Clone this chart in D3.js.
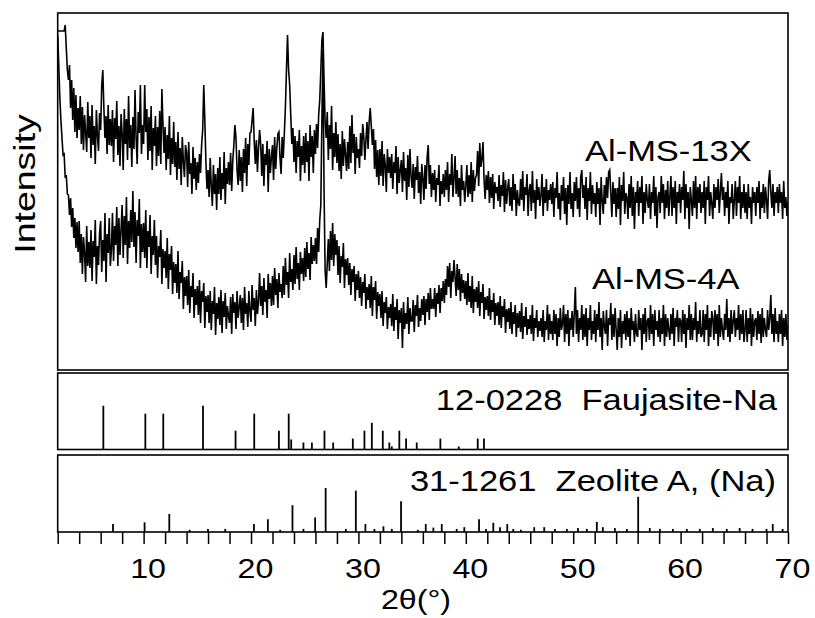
<!DOCTYPE html>
<html><head><meta charset="utf-8">
<script src="https://cdn.jsdelivr.net/npm/d3@7"></script>
<style>
body{margin:0;background:#fff}
text{font-family:"Liberation Sans",Arial,sans-serif;fill:#000}
</style>
</head><body>
<svg id="chart" width="815" height="618"></svg>
<script>
// ---- data ----
const twoThetaStart = 2.0, twoThetaStep = 0.1;
// Al-MS-13X intensity (a.u.), 2θ = 2.0 ... 70.0, step 0.1 (one row per degree)
const al13X = [
339,339,339,339,339,339,339,345,322,300,
290,305,262,290,250,282,238,275,232,262,
240,274,226,263,220,255,238,218,268,232,
254,212,265,225,244,206,260,235,219,257,
240,285,300,262,232,254,216,265,225,251,
224,260,208,252,231,269,215,244,204,256,
237,200,261,226,251,210,274,222,245,203,
253,221,280,232,206,258,237,285,216,245,
226,285,238,261,210,253,219,264,200,242,
224,254,204,243,214,259,206,281,246,217,
243,200,235,211,254,195,232,206,248,203,
228,190,238,201,222,185,233,209,193,225,
218,183,228,196,207,176,223,191,212,180,
208,187,216,197,225,240,285,250,208,181,
200,173,212,184,164,205,176,196,160,202,
176,213,170,197,181,218,166,202,186,208,
185,217,179,209,225,245,232,200,185,220,
189,213,178,221,197,232,184,226,205,237,
238,250,262,228,206,230,198,222,240,226,
194,226,184,216,205,229,178,221,197,213,
225,190,233,201,222,236,238,212,196,233,
212,236,262,300,335,300,285,255,226,242,
208,234,197,229,213,240,189,224,205,234,
197,237,208,229,189,245,213,234,197,240,
216,246,222,255,270,300,330,338,290,248,
232,258,210,245,221,264,200,237,213,248,
207,236,199,226,191,239,204,231,215,199,
228,201,244,207,255,217,236,196,233,212,
221,202,237,214,246,234,210,230,248,221,
248,262,244,225,241,201,230,193,220,185,
221,194,229,184,216,205,178,221,197,213,
192,216,181,208,197,224,176,213,187,200,
210,178,218,189,202,170,215,183,221,194,
182,206,171,203,190,214,177,198,166,206,
192,170,205,181,213,225,186,205,173,197,
180,200,168,192,185,205,164,189,176,196,
173,200,180,208,168,196,185,216,173,192,
214,176,200,173,192,164,205,180,189,168,
184,205,173,195,176,208,168,200,179,192,
195,219,184,227,203,211,228,190,171,195,
180,199,167,193,172,196,161,188,177,183,
169,195,163,185,174,198,158,190,166,182,
191,164,183,159,196,170,186,154,180,167,
164,191,170,199,159,183,175,196,154,180,
186,159,199,167,180,151,191,170,183,164,
175,196,154,183,167,191,159,180,170,186,
166,188,153,182,172,198,161,177,150,185,
169,193,156,182,145,185,166,198,161,177,
153,188,169,193,161,182,153,193,200,172,
185,161,193,150,182,169,198,156,185,166,
177,153,188,166,182,145,193,169,156,185,
166,193,172,198,200,177,153,188,166,182,
153,182,161,193,145,185,169,198,156,177,
173,151,186,162,194,154,183,141,178,167,
189,154,183,167,194,146,178,157,186,170,
162,186,151,178,167,194,154,183,142,173,
178,157,194,167,186,151,180,162,189,154,
173,194,154,183,162,189,146,178,167,186,
157,183,170,199,151,186,162,178,141,183,
170,154,189,162,194,151,183,167,186,157,
178,162,189,146,183,170,194,154,178,167,
151,186,162,183,170,191,157,178,197,170,
183,154,178,162,189,146,173,167,186,151,
170,189,154,183,167,194,151,178,162,186,
157,178,151,186,162,173,146,183,167,178,
154,183,167,189,151,178,162,186,157,183,
170,151,189,200,178,162,186,154,178,167,
183,157,186,167,178,151,189,162,173,154,
168];
// Al-MS-4A intensity (a.u.), same 2θ grid
const al4A = [
335,305,272,250,232,215,216,192,195,176,
175,155,172,143,162,132,152,122,148,118,
149,107,136,96,133,117,88,144,104,128,
102,140,89,129,113,150,86,124,105,137,
149,98,130,109,157,88,136,117,152,104,
120,157,109,144,125,163,104,152,115,141,
165,112,154,125,173,106,149,122,160,128,
179,123,158,107,150,134,171,102,146,118,
147,112,160,102,139,123,155,96,134,115,
150,105,134,92,124,113,140,86,121,102,
119,92,132,81,116,100,124,76,108,87,
106,77,119,71,98,87,109,61,93,74,
94,65,100,57,84,73,97,52,81,65,
84,55,90,47,79,68,87,42,74,58,
75,47,79,40,69,56,83,35,67,51,
73,45,80,37,69,53,77,41,64,54,
47,73,36,76,57,68,41,79,52,63,
75,47,72,40,83,56,67,43,79,59,
48,85,60,72,44,80,56,69,97,64,
84,55,92,68,80,52,96,71,87,64,
94,65,102,75,91,62,97,78,86,72,
104,75,112,85,98,72,117,88,101,80,
115,86,123,91,107,80,118,96,112,89,
122,93,128,101,117,90,133,106,125,109,
132,106,142,118,150,165,250,320,180,100,
82,107,131,99,139,110,147,104,136,115,
130,95,124,87,114,103,127,82,111,95,
112,85,107,75,101,88,104,69,96,80,
99,72,93,64,88,77,96,61,83,70,
86,62,94,54,83,70,89,51,78,64,
76,52,79,44,68,57,73,41,63,52,
66,44,76,39,63,50,71,31,60,47,
62,22,68,41,57,46,73,36,62,49,
49,70,38,65,54,75,43,62,49,71,
55,74,45,71,58,77,50,82,61,71,
61,82,53,77,66,85,57,82,69,89,
67,91,75,104,83,107,72,99,88,110,
93,74,106,80,101,69,96,77,90,71,
89,65,97,68,84,62,94,57,81,68,
83,62,89,54,78,67,86,51,73,60,
74,54,82,50,70,58,77,45,67,54,
68,45,74,42,64,53,71,37,61,48,
62,41,68,36,58,46,65,33,57,42,
59,38,67,31,54,43,63,35,51,41,
55,36,65,29,52,42,60,33,49,39,
52,33,60,28,49,40,65,30,56,36,
49,30,60,36,56,24,52,33,62,40,
46,65,28,56,36,60,24,52,40,59,
33,56,83,36,60,28,52,40,65,30,
56,33,62,24,52,40,65,30,49,36,
60,28,56,40,68,33,52,20,59,43,
36,60,24,52,45,67,30,56,33,62,
40,20,52,33,60,22,49,36,56,30,
59,33,52,24,62,40,49,28,56,36,
33,60,40,52,20,56,36,62,28,49,
52,30,65,36,56,24,60,40,49,33,
60,28,52,36,65,24,56,33,52,40,
30,56,36,62,24,52,43,60,28,52,
49,28,60,36,56,22,52,40,65,30,
56,30,52,40,68,28,49,36,60,33,
36,60,28,56,40,65,24,52,33,59,
52,30,60,36,56,24,65,33,52,40,
30,56,40,71,33,52,28,60,36,49,
60,33,52,40,65,30,56,36,60,28,
40,60,28,52,36,62,24,56,33,49,
52,30,59,36,56,27,62,33,52,40,
33,60,40,52,75,36,56,28,62,36,
49,28,56,36,60,24,52,33,56,30,
45];
// PDF 12-0228 Faujasite-Na reference lines
const faujasitePos = [6.25,10.16,11.83,15.53,18.56,20.30,22.60,23.51,23.74,24.88,25.67,26.84,27.65,29.48,30.56,31.25,32.27,32.88,33.11,33.81,34.44,35.43,37.63,39.34,41.11,41.69];
const faujasiteInt = [100,82,82,100,43,82,43,82,23,16,16,43,16,25,43,61,43,16,7,43,25,16,25,7,25,25];
// PDF 31-1261 Zeolite A (Na) reference lines
const zeoliteAPos = [7.15,10.09,12.39,14.28,15.99,17.60,20.27,21.57,22.72,23.86,24.88,25.97,26.95,28.83,29.76,30.65,31.49,32.33,33.11,33.97,35.53,36.27,36.98,37.76,39.15,39.86,41.23,41.88,42.56,43.18,43.86,44.42,45.13,46.37,47.30,48.30,49.41,50.44,51.27,52.20,52.76,53.88,55.00,56.05,57.13,58.07,59.28,60.58,61.79,63.00,64.30,65.50,66.70,68.00,68.58,69.50];
const zeoliteAInt = [18,22,41,5,7,7,18,29,5,61,7,33,100,7,94,18,7,13,7,70,5,18,10,18,7,11,29,7,21,11,18,7,5,11,11,7,7,9,7,23,11,9,7,80,9,7,7,7,7,9,7,9,7,7,18,7];
const xTickLabels = [10,20,30,40,50,60,70];
const seriesLabels = ["Al-MS-13X","Al-MS-4A"];
const refLabels = ["12-0228  Faujasite-Na","31-1261  Zeolite A, (Na)"];

// ---- drawing ----
const svg = d3.select("#chart");
const L = 57.7, R = 788;
const x = d3.scaleLinear().domain([2,70]).range([L,R]);
const yTop = d3.scaleLinear().domain([0,357]).range([370,13]);
const yMid = d3.scaleLinear().domain([0,175]).range([449.5,373]);
const yBot = d3.scaleLinear().domain([0,175]).range([532,455]);
const SX = 1.15;

svg.append("defs").append("clipPath").attr("id","clipTop")
  .append("rect").attr("x",L).attr("y",13).attr("width",R-L).attr("height",357);

const tt = i => twoThetaStart + i*twoThetaStep;
const line = d3.line().x((d,i)=>x(tt(i))).y(d=>yTop(d));
const gT = svg.append("g").attr("clip-path","url(#clipTop)");
[al13X, al4A].forEach(s=>{
  gT.append("path").attr("d", line(s)).attr("fill","none")
    .attr("stroke","#000").attr("stroke-width",1.6).attr("stroke-linejoin","miter");
});

// stick patterns
function sticks(pos, val, y){
  svg.append("g").selectAll("line").data(pos).join("line")
    .attr("x1",d=>x(d)).attr("x2",d=>x(d))
    .attr("y1",y(0)).attr("y2",(d,i)=>y(val[i]))
    .attr("stroke","#000").attr("stroke-width",1.8);
}
sticks(faujasitePos, faujasiteInt, yMid);
sticks(zeoliteAPos, zeoliteAInt, yBot);

// frames
[[13,370],[373,449.5],[455,532]].forEach(([a,b])=>{
  svg.append("rect").attr("x",L).attr("y",a).attr("width",R-L).attr("height",b-a)
    .attr("fill","none").attr("stroke","#000").attr("stroke-width",1.6);
});

// x axis
const ax = svg.append("g").attr("transform","translate(0,532)")
  .call(d3.axisBottom(x).tickValues(d3.range(2,71,2)).tickSize(12).tickSizeOuter(0)
    .tickFormat(d=> xTickLabels.includes(d) ? d : ""));
ax.select(".domain").remove();
ax.selectAll(".tick line").attr("stroke","#000").attr("stroke-width",1.5);
ax.selectAll(".tick text").attr("y",26).attr("dy","0.71em")
  .attr("transform",`translate(4,0) scale(${SX},1)`)
  .style("font-size","28px").style("font-family","'Liberation Sans',Arial,sans-serif").attr("fill","#000");

function label(t, xx, yy, anchor, size){
  svg.append("text").attr("transform",`translate(${xx},${yy}) scale(${SX},1)`)
    .attr("text-anchor",anchor).style("font-size",size+"px").style("white-space","pre").text(t);
}
label(seriesLabels[0], 585, 161, "start", 30);
label(seriesLabels[1], 592, 289, "start", 30);
label(refLabels[0], 777, 410, "end", 30);
label(refLabels[1], 776, 491, "end", 30);
label("2θ(°)", 416, 609, "middle", 28);

svg.append("text").attr("transform",`translate(35,184) scale(1,1.25) rotate(-90)`)
  .attr("text-anchor","middle").style("font-size","30px").text("Intensity");
</script>
</body></html>
